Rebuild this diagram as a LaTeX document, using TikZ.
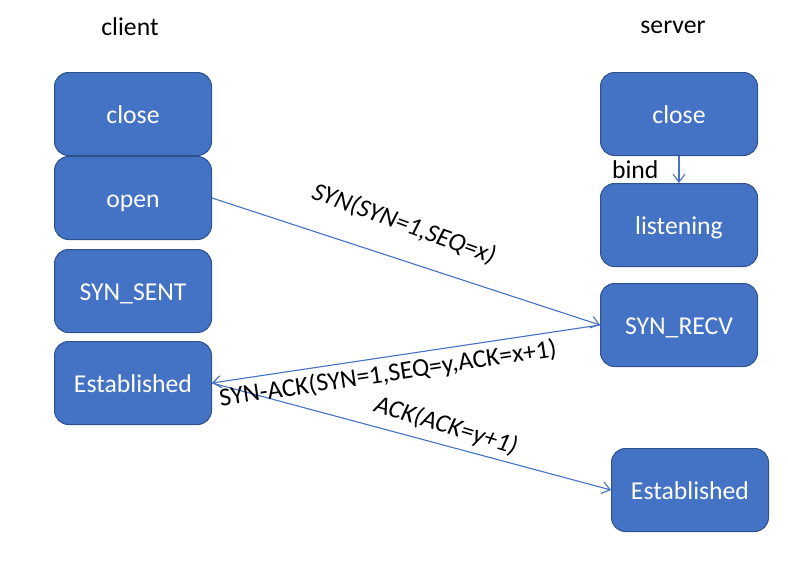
\documentclass[tikz,border=0pt]{standalone}
\usepackage{fontspec}
\setmainfont{Carlito}
\usetikzlibrary{arrows.meta}
\definecolor{mblue}{RGB}{68,114,196}
\definecolor{mdarkblue}{RGB}{47,82,143}

\begin{document}
\begin{tikzpicture}[x=1pt, y=-1pt,
    font=\fontsize{25.7}{30}\selectfont,
    state/.style={draw=mdarkblue, line width=1pt, fill=mblue, rounded corners=14pt,
        minimum width=157pt, minimum height=83pt, inner sep=0pt, text=white,
        text height=19pt, text depth=0pt},
    arrow/.style={mblue, line width=1.1pt, -{Straight Barb[length=8pt,width=12pt]}},
    msg/.style={inner sep=0pt, text=black},
]
\useasboundingbox (0,0) rectangle (788,573);

\node (client) at (130,27) {client};
\node (server) at (673,27) {server};

% client side
\node[state] (cclose) at (133,114) {close};
\node[state] (copen) at (133,198) {open};
\node[state] (csent) at (133,291) {SYN\_SENT};
\node[state] (cest) at (133,383) {Established};

% server side
\node[state] (sclose) at (679,114) {close};
\node[state] (slisten) at (679,225) {listening};
\node[state] (srecv) at (679,325) {SYN\_RECV};
\node[state] (sest) at (690,490) {Established};

\draw[arrow] (sclose) -- node[msg, left=20pt] {bind} (slisten);
\draw[arrow] (copen.east) -- (srecv.west);
\draw[arrow] (srecv.west) -- (cest.east);
\draw[arrow] (cest.east) -- (sest.west);

\node[msg, rotate=-20] (synlabel) at (404,224) {\itshape SYN(SYN=1,SEQ=x)};
\node[msg, rotate=8.5] (synacklabel) at (388,374) {SYN-ACK(SYN=1,SEQ=y,ACK=x+1)};
\node[msg, rotate=-17] (acklabel) at (446,426) {\itshape ACK(ACK=y+1)};
\end{tikzpicture}
\end{document}
